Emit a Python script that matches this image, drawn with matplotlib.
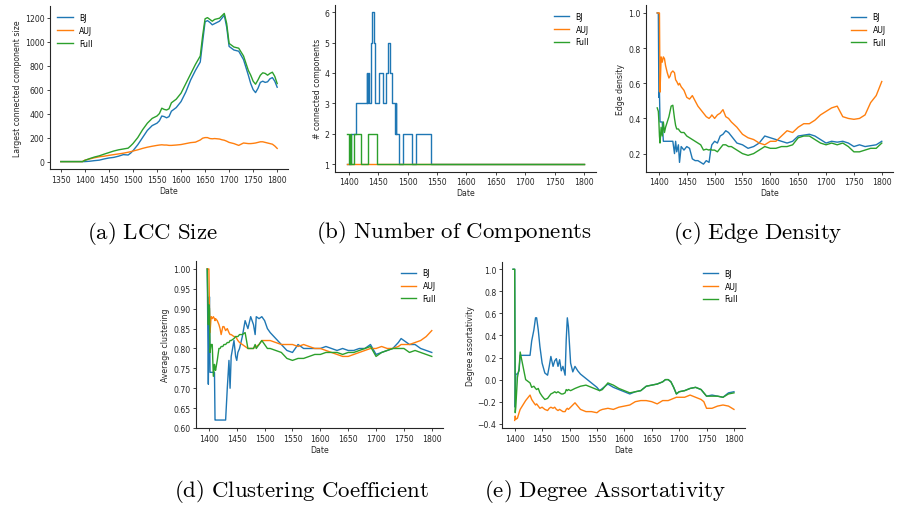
import numpy as np
import matplotlib
matplotlib.use("Agg")
import matplotlib.pyplot as plt
from matplotlib.ticker import MultipleLocator

# ---------------- data ----------------
series_names = ["BJ", "AUJ", "Full"]
colors = ["#1f77b4", "#ff7f0e", "#2ca02c"]

# (a) LCC size
lcc_dates = [1350, 1360, 1370, 1380, 1390, 1395, 1400, 1410, 1420, 1430, 1440, 1450, 1460, 1470,
             1480, 1490, 1495, 1500, 1510, 1520, 1530, 1540, 1550, 1555, 1560, 1565, 1570, 1575,
             1580, 1590, 1600, 1610, 1620, 1630, 1640, 1645, 1650, 1655, 1660, 1665, 1670, 1675,
             1680, 1685, 1690, 1695, 1700, 1710, 1720, 1730, 1740, 1745, 1750, 1755, 1760, 1765,
             1770, 1775, 1780, 1785, 1790, 1795, 1800]
lcc_bj = [0, 0, 0, 0, 0, 0, 0, 3, 8, 12, 22, 30, 35, 45,
          58, 55, 70, 90, 140, 200, 260, 300, 320, 340, 380, 375, 365, 375,
          420, 450, 500, 580, 680, 760, 830, 1000, 1165, 1175, 1160, 1140, 1150, 1160,
          1170, 1195, 1220, 1120, 960, 930, 920, 850, 720, 650, 600, 575, 610, 660,
          670, 660, 665, 690, 700, 670, 620]
lcc_auj = [0, 0, 0, 0, 0, 0, 12, 22, 32, 40, 45, 52, 58, 64,
           70, 78, 82, 88, 98, 110, 120, 128, 135, 138, 140, 138, 138, 135,
           135, 138, 142, 150, 158, 162, 180, 195, 200, 200, 192, 190, 192, 190,
           188, 182, 178, 170, 160, 150, 135, 155, 150, 150, 152, 155, 160, 165,
           165, 160, 155, 150, 145, 130, 110]
lcc_full = [0, 0, 0, 0, 0, 0, 10, 25, 38, 48, 62, 75, 88, 98,
            105, 112, 130, 150, 200, 265, 320, 360, 380, 400, 445, 435, 430, 440,
            490, 520, 570, 650, 730, 810, 880, 1050, 1190, 1200, 1185, 1170, 1185, 1190,
            1195, 1215, 1235, 1150, 985, 955, 945, 880, 760, 720, 670, 645, 680, 720,
            740, 735, 720, 735, 745, 710, 650]

# (b) number of connected components (step changes)
comp_bj_dates = [1397, 1403.5, 1413, 1431, 1432, 1433, 1434, 1437.5, 1439, 1443.5, 1444, 1451,
                 1458.5, 1463.5, 1467, 1471, 1474, 1479, 1480, 1481, 1484, 1485.5, 1492.5,
                 1508, 1514, 1540, 1800]
comp_bj = [1, 2, 3, 4, 3, 4, 3, 5, 6, 5, 3, 4,
           3, 4, 5, 4, 3, 2, 3, 2, 2, 1, 2,
           1, 2, 1, 1]
comp_auj_dates = [1397, 1800]
comp_auj = [1, 1]
comp_full_dates = [1397, 1400.5, 1402, 1404, 1408.5, 1420.5, 1432.5, 1447.5, 1800]
comp_full = [2, 1, 2, 1, 2, 1, 2, 1, 1]

# (c) edge density
dens_dates = [1397, 1399, 1400, 1401, 1402, 1404, 1406, 1408, 1410, 1412, 1415, 1418, 1420, 1422,
              1425, 1428, 1430, 1432, 1435, 1437, 1440, 1445, 1450, 1455, 1460, 1465, 1470, 1475,
              1480, 1485, 1490, 1493, 1495, 1500, 1505, 1510, 1515, 1520, 1525, 1530, 1540, 1550,
              1560, 1570, 1580, 1590, 1600, 1610, 1620, 1630, 1640, 1650, 1660, 1670, 1680, 1690,
              1700, 1710, 1720, 1730, 1740, 1750, 1760, 1770, 1780, 1790, 1800]
dens_bj = [1.0, 1.0, 0.52, 0.55, 0.38, 0.38, 0.38, 0.27, 0.27, 0.27, 0.27, 0.27, 0.27, 0.27,
           0.27, 0.20, 0.27, 0.21, 0.25, 0.15, 0.24, 0.22, 0.24, 0.23, 0.17, 0.16, 0.16, 0.15,
           0.14, 0.16, 0.15, 0.22, 0.25, 0.27, 0.26, 0.30, 0.31, 0.33, 0.32, 0.30, 0.26, 0.25,
           0.23, 0.24, 0.26, 0.30, 0.29, 0.28, 0.27, 0.26, 0.27, 0.30, 0.305, 0.31, 0.30, 0.28,
           0.26, 0.27, 0.265, 0.27, 0.26, 0.24, 0.25, 0.24, 0.245, 0.25, 0.27]
dens_auj = [1.0, 1.0, 1.0, 1.0, 0.55, 0.75, 0.72, 0.75, 0.74, 0.70, 0.66, 0.63, 0.64, 0.66,
            0.67, 0.66, 0.62, 0.61, 0.59, 0.60, 0.58, 0.56, 0.52, 0.51, 0.53, 0.50, 0.47, 0.45,
            0.43, 0.41, 0.40, 0.41, 0.42, 0.40, 0.42, 0.43, 0.45, 0.41, 0.40, 0.38, 0.35, 0.31,
            0.29, 0.28, 0.26, 0.25, 0.27, 0.27, 0.30, 0.33, 0.32, 0.35, 0.37, 0.37, 0.39, 0.42,
            0.44, 0.46, 0.47, 0.41, 0.40, 0.395, 0.40, 0.42, 0.49, 0.53, 0.61]
dens_full = [0.46, 0.44, 0.38, 0.30, 0.26, 0.35, 0.30, 0.38, 0.32, 0.35, 0.38, 0.41, 0.44, 0.47,
             0.475, 0.40, 0.36, 0.34, 0.34, 0.33, 0.32, 0.32, 0.30, 0.29, 0.28, 0.27, 0.26, 0.25,
             0.22, 0.225, 0.22, 0.225, 0.22, 0.22, 0.21, 0.23, 0.25, 0.25, 0.24, 0.24, 0.22, 0.20,
             0.19, 0.20, 0.22, 0.24, 0.23, 0.23, 0.24, 0.24, 0.25, 0.29, 0.30, 0.30, 0.28, 0.26,
             0.25, 0.26, 0.25, 0.26, 0.24, 0.21, 0.21, 0.22, 0.23, 0.23, 0.26]

# (d) average clustering
clust_dates = [1397, 1399, 1400, 1401, 1402, 1404, 1406, 1408, 1410, 1411, 1412, 1415, 1418, 1420,
               1422, 1425, 1427, 1430, 1433, 1436, 1438, 1440, 1445, 1448, 1450, 1452, 1455, 1460,
               1465, 1470, 1475, 1480, 1483, 1485, 1490, 1495, 1500, 1505, 1510, 1520, 1530, 1540,
               1550, 1560, 1570, 1580, 1590, 1600, 1610, 1620, 1630, 1640, 1650, 1660, 1670, 1680,
               1690, 1700, 1710, 1720, 1730, 1740, 1745, 1750, 1760, 1770, 1780, 1790, 1800]
clust_bj = [1.0, 0.71, 0.85, 0.93, 0.74, 0.74, 0.74, 0.74, 0.74, 0.62, 0.62, 0.62, 0.62, 0.62,
            0.62, 0.62, 0.62, 0.62, 0.70, 0.77, 0.70, 0.78, 0.82, 0.78, 0.77, 0.79, 0.80, 0.83,
            0.87, 0.85, 0.88, 0.86, 0.835, 0.88, 0.875, 0.88, 0.87, 0.85, 0.84, 0.825, 0.81, 0.795,
            0.79, 0.81, 0.80, 0.80, 0.80, 0.80, 0.805, 0.80, 0.795, 0.80, 0.795, 0.795, 0.80, 0.80,
            0.81, 0.785, 0.79, 0.795, 0.80, 0.815, 0.825, 0.82, 0.81, 0.81, 0.80, 0.795, 0.79]
clust_auj = [1.0, 1.0, 1.0, 0.90, 0.84, 0.88, 0.875, 0.88, 0.875, 0.87, 0.875, 0.87, 0.86, 0.85,
             0.835, 0.855, 0.855, 0.845, 0.85, 0.84, 0.835, 0.835, 0.83, 0.83, 0.825, 0.82, 0.815, 0.81,
             0.805, 0.80, 0.80, 0.80, 0.805, 0.805, 0.81, 0.82, 0.82, 0.82, 0.82, 0.815, 0.81, 0.81,
             0.81, 0.805, 0.81, 0.805, 0.80, 0.80, 0.795, 0.79, 0.785, 0.78, 0.78, 0.785, 0.79, 0.795,
             0.80, 0.80, 0.805, 0.80, 0.80, 0.805, 0.81, 0.81, 0.81, 0.815, 0.82, 0.83, 0.845]
clust_full = [1.0, 0.86, 0.91, 0.90, 0.79, 0.81, 0.81, 0.73, 0.76, 0.75, 0.745, 0.77, 0.80, 0.80,
              0.805, 0.805, 0.81, 0.81, 0.815, 0.815, 0.82, 0.82, 0.825, 0.83, 0.83, 0.83, 0.835, 0.835,
              0.84, 0.80, 0.80, 0.80, 0.81, 0.80, 0.81, 0.82, 0.81, 0.80, 0.80, 0.795, 0.79, 0.775,
              0.77, 0.775, 0.775, 0.78, 0.785, 0.785, 0.79, 0.79, 0.79, 0.785, 0.79, 0.79, 0.795, 0.80,
              0.805, 0.78, 0.79, 0.795, 0.80, 0.80, 0.80, 0.80, 0.79, 0.795, 0.79, 0.785, 0.78]

# (e) degree assortativity
assort_dates = [1397, 1400, 1401, 1402, 1405, 1408, 1410, 1420, 1428, 1431, 1435, 1438, 1440, 1443,
                1446, 1450, 1455, 1460, 1463, 1466, 1470, 1473, 1476, 1479, 1482, 1485, 1488, 1492,
                1494, 1496, 1498, 1502, 1506, 1510, 1515, 1520, 1530, 1540, 1550, 1555, 1560, 1570,
                1580, 1590, 1600, 1610, 1620, 1630, 1640, 1650, 1660, 1670, 1675, 1680, 1685, 1690,
                1695, 1700, 1710, 1720, 1730, 1740, 1745, 1750, 1760, 1770, 1780, 1790, 1800]
assort_bj = [1.0, 1.0, -0.25, 0.05, 0.05, 0.08, 0.22, 0.22, 0.22, 0.35, 0.45, 0.56, 0.56, 0.45,
             0.30, 0.15, 0.06, 0.04, 0.12, 0.21, 0.12, 0.17, 0.19, 0.12, 0.18, 0.08, 0.12, 0.04,
             0.36, 0.56, 0.48, 0.15, 0.07, 0.12, 0.08, 0.05, 0.01, -0.03, -0.07, -0.10, -0.08, -0.04,
             -0.07, -0.09, -0.11, -0.13, -0.11, -0.10, -0.06, -0.05, -0.04, -0.02, 0.0, 0.0, -0.02, -0.07,
             -0.13, -0.11, -0.10, -0.08, -0.07, -0.09, -0.12, -0.15, -0.14, -0.15, -0.16, -0.12, -0.11]
assort_auj = [np.nan, -0.37, -0.33, -0.36, -0.35, -0.30, -0.27, -0.19, -0.14, -0.18, -0.21, -0.23, -0.22, -0.24,
              -0.26, -0.25, -0.27, -0.28, -0.26, -0.25, -0.26, -0.25, -0.27, -0.28, -0.27, -0.28, -0.29, -0.29,
              -0.27, -0.26, -0.27, -0.25, -0.23, -0.21, -0.24, -0.27, -0.29, -0.29, -0.30, -0.28, -0.27, -0.26,
              -0.27, -0.25, -0.24, -0.23, -0.20, -0.19, -0.19, -0.20, -0.22, -0.19, -0.19, -0.19, -0.18, -0.17,
              -0.16, -0.16, -0.16, -0.14, -0.16, -0.18, -0.20, -0.26, -0.26, -0.24, -0.23, -0.24, -0.27]
assort_full = [1.0, 1.0, -0.30, -0.25, 0.02, 0.10, 0.25, 0.0, -0.03, -0.07, -0.06, -0.08, -0.09, -0.08,
               -0.12, -0.15, -0.18, -0.17, -0.15, -0.13, -0.12, -0.11, -0.12, -0.11, -0.12, -0.13, -0.13, -0.12,
               -0.09, -0.10, -0.09, -0.10, -0.09, -0.08, -0.07, -0.06, -0.05, -0.07, -0.09, -0.10, -0.09, -0.03,
               -0.05, -0.08, -0.10, -0.12, -0.11, -0.10, -0.06, -0.05, -0.04, -0.02, 0.0, 0.0, -0.02, -0.07,
               -0.13, -0.11, -0.10, -0.08, -0.07, -0.09, -0.12, -0.15, -0.15, -0.15, -0.16, -0.13, -0.12]

captions = ["(a) LCC Size", "(b) Number of Components", "(c) Edge Density",
            "(d) Clustering Coefficient", "(e) Degree Assortativity"]
ylabels = ["Largest connected component size", "# connected components", "Edge density",
           "Average clustering", "Degree assortativity"]

# ---------------- figure ----------------
W, H = 899, 506
fig = plt.figure(figsize=(W / 100, H / 100), dpi=100)

def frac(l, r, t, b):
    return [l / W, 1 - b / H, (r - l) / W, (b - t) / H]

boxes = [frac(50, 288, 7, 170), frac(335, 596, 5.7, 172.6), frac(646, 893, 6.4, 172.7),
         frac(196, 443, 262.4, 429), frac(502, 745, 262.7, 429)]
cap_pos = [(152, 234), (454, 233), (758, 234), (301, 492), (605, 492)]

FS = 5.6
panels = [
    ([(lcc_dates, lcc_bj), (lcc_dates, lcc_auj), (lcc_dates, lcc_full)], None, 200, "upper left", None),
    ([(comp_bj_dates, comp_bj), (comp_auj_dates, comp_auj), (comp_full_dates, comp_full)], "steps-post", 1, "upper right", None),
    ([(dens_dates, dens_bj), (dens_dates, dens_auj), (dens_dates, dens_full)], None, 0.2, "upper right", None),
    ([(clust_dates, clust_bj), (clust_dates, clust_auj), (clust_dates, clust_full)], None, 0.05, "upper right", (0.60, 1.019)),
    ([(assort_dates, assort_bj), (assort_dates, assort_auj), (assort_dates, assort_full)], None, 0.2, "upper right", None),
]

for i, (series, ds, ystep, legloc, ylim) in enumerate(panels):
    ax = fig.add_axes(boxes[i])
    for (x, y), name, c in zip(series, series_names, colors):
        kw = {"drawstyle": ds} if ds else {}
        ax.plot(x, y, color=c, lw=1.0, label=name, **kw)
    ax.xaxis.set_major_locator(MultipleLocator(50))
    ax.yaxis.set_major_locator(MultipleLocator(ystep))
    if ylim:
        ax.set_ylim(*ylim)
    for s in ["top", "right"]:
        ax.spines[s].set_visible(False)
    for s in ["left", "bottom"]:
        ax.spines[s].set_linewidth(0.8)
        ax.spines[s].set_color("#262626")
    ax.tick_params(labelsize=FS, length=2.5, width=0.6, pad=1.5, colors="#262626")
    ax.set_xlabel("Date", fontsize=FS, labelpad=1.5, color="#262626")
    ax.set_ylabel(ylabels[i], fontsize=FS, labelpad=2, color="#262626")
    ax.legend(loc=legloc, frameon=False, fontsize=FS, handlelength=2.0)
    cx, cy = cap_pos[i]
    txt = captions[i].replace(" ", r"\ ")
    fig.text(cx / W, 1 - cy / H, r"$\mathrm{" + txt + "}$", math_fontfamily="cm",
             fontsize=16.5, ha="center", va="center")

fig.savefig("out.png", dpi=100)
